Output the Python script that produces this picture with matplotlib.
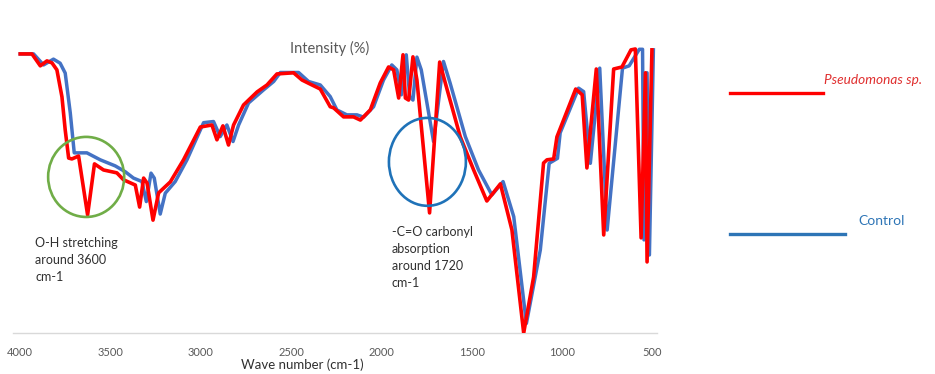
import matplotlib
matplotlib.use("Agg")
import matplotlib.pyplot as plt
from matplotlib.patches import Ellipse
from matplotlib.lines import Line2D

plt.rcParams['font.family'] = ['Lato', 'DejaVu Sans']

# FTIR spectra (wave number cm-1, intensity %)
pseudo_wn = [4000, 3935, 3889, 3852, 3824, 3797, 3769, 3751, 3732, 3714, 3677, 3627,
             3589, 3539, 3465, 3428, 3363, 3339, 3317, 3298, 3265, 3234, 3169, 3096,
             3003, 2939, 2911, 2878, 2847, 2819, 2764, 2689, 2634, 2579, 2487, 2440,
             2385, 2339, 2284, 2265, 2210, 2155, 2117, 2062, 2007, 1961, 1933, 1905,
             1881, 1868, 1850, 1826, 1804, 1734, 1678, 1647, 1564, 1490, 1417, 1342,
             1278, 1213, 1158, 1103, 1084, 1047, 1029, 925, 889, 863, 811, 770,
             715, 669, 619, 595, 563, 539, 530, 503]
pseudo_int = [96.2, 96.2, 92.1, 93.8, 93.1, 90.7, 81.4, 70.0, 60.3, 60.0, 61.0, 40.7,
              58.3, 56.2, 55.2, 52.8, 51.0, 43.4, 53.4, 51.7, 38.9, 48.3, 52.1, 59.7,
              71.0, 71.7, 66.6, 71.4, 64.8, 71.7, 78.6, 83.1, 85.5, 89.3, 89.7, 87.2,
              85.5, 84.1, 78.0, 77.6, 74.5, 74.5, 73.4, 76.9, 86.2, 91.7, 90.7, 81.0,
              95.9, 81.0, 80.3, 95.2, 87.2, 41.4, 93.4, 86.2, 67.6, 56.2, 45.5, 51.4,
              35.5, 0.0, 19.3, 58.6, 59.7, 60.0, 67.6, 84.1, 82.1, 56.9, 91.0, 33.8,
              91.0, 91.7, 97.6, 97.9, 32.8, 89.7, 24.5, 97.6]

control_wn = [4000, 3926, 3871, 3816, 3779, 3751, 3723, 3701, 3631, 3557, 3474, 3419,
              3373, 3326, 3302, 3276, 3258, 3225, 3197, 3142, 3077, 2985, 2930, 2893,
              2856, 2822, 2791, 2736, 2653, 2597, 2560, 2459, 2404, 2339, 2284, 2247,
              2192, 2136, 2099, 2044, 1989, 1943, 1915, 1890, 1863, 1844, 1826, 1804,
              1780, 1712, 1657, 1620, 1536, 1463, 1389, 1327, 1268, 1198, 1121, 1072,
              1026, 1011, 909, 881, 844, 792, 751, 666, 629, 573, 555, 547,
              530, 517, 495]
control_int = [96.2, 96.2, 92.4, 94.4, 93.0, 89.6, 75.9, 62.1, 62.1, 59.7, 57.6, 55.6,
               53.4, 52.2, 45.3, 55.1, 53.4, 41.0, 48.2, 52.2, 59.7, 72.5, 72.9, 67.7,
               71.7, 66.0, 71.7, 79.3, 83.8, 86.7, 89.8, 89.8, 86.7, 85.5, 81.5, 76.9,
               75.2, 75.2, 74.4, 78.0, 87.2, 92.4, 90.7, 82.1, 95.9, 81.5, 80.3, 95.1,
               90.7, 66.0, 93.6, 86.1, 67.7, 56.2, 47.6, 52.2, 40.1, 3.3, 28.6, 58.5,
               60.2, 69.0, 84.4, 83.2, 58.5, 91.3, 35.5, 91.3, 92.1, 97.8, 97.8, 32.1,
               89.7, 26.9, 97.6]

x_ticks = [4000, 3500, 3000, 2500, 2000, 1500, 1000, 500]

# highlighted bands: centre (wn, int), width (wn), height (int)
oh_circle = (3635, 53.8, 421, 27.6)
co_circle = (1746, 59.0, 426, 30.3)

fig = plt.figure(figsize=(9.35, 3.74), dpi=100)
ax = fig.add_axes([13/935, 41/374, 644/935, 293/374])

ax.plot(control_wn, control_int, color='#4472c4', linewidth=2.5, zorder=2)
ax.plot(pseudo_wn, pseudo_int, color='#ff0000', linewidth=2.6, zorder=3)

ax.add_patch(Ellipse(oh_circle[:2], oh_circle[2], oh_circle[3], fill=False,
                     edgecolor='#70ad47', linewidth=1.9, zorder=4))
ax.add_patch(Ellipse(co_circle[:2], co_circle[2], co_circle[3], fill=False,
                     edgecolor='#1f72b8', linewidth=1.9, zorder=4))

ax.set_xlim(4040, 475)
ax.set_ylim(0, 101)
ax.set_xticks(x_ticks)
ax.set_xticklabels([str(t) for t in x_ticks])
ax.set_yticks([])
for s in ['left', 'right', 'top']:
    ax.spines[s].set_visible(False)
ax.spines['bottom'].set_color('#d9d9d9')
ax.spines['bottom'].set_linewidth(1.0)
ax.tick_params(axis='x', length=0, pad=10, labelsize=8, labelcolor='#595959')
ax.patch.set_alpha(0)

fig.text(330/935, 1 - 48/374, 'Intensity (%)', ha='center', va='center',
         fontsize=10.5, color='#595959')
fig.text(302/935, 1 - 365/374, 'Wave number (cm-1)', ha='center', va='center',
         fontsize=9.5, color='#303030')

fig.text(35/935, 1 - 237/374, 'O-H stretching\naround 3600\ncm-1', ha='left', va='top',
         fontsize=9, color='#303030', linespacing=1.5)
fig.text(392/935, 1 - 226/374, '-C=O carbonyl\nabsorption\naround 1720\ncm-1', ha='left',
         va='top', fontsize=9, color='#303030', linespacing=1.5)

# legend drawn by hand on the right
fig.add_artist(Line2D([730/935, 823/935], [1 - 93/374] * 2, color='#ff0000',
                      linewidth=2.4, transform=fig.transFigure))
fig.text(824/935, 1 - 80/374, 'Pseudomonas sp.', ha='left', va='center',
         fontsize=9.8, style='italic', color='#e03030')
fig.add_artist(Line2D([730/935, 845/935], [1 - 234/374] * 2, color='#2e75b6',
                      linewidth=2.4, transform=fig.transFigure))
fig.text(858/935, 1 - 221/374, 'Control', ha='left', va='center',
         fontsize=10, color='#2e75b6')

fig.savefig('out.png', dpi=100)
